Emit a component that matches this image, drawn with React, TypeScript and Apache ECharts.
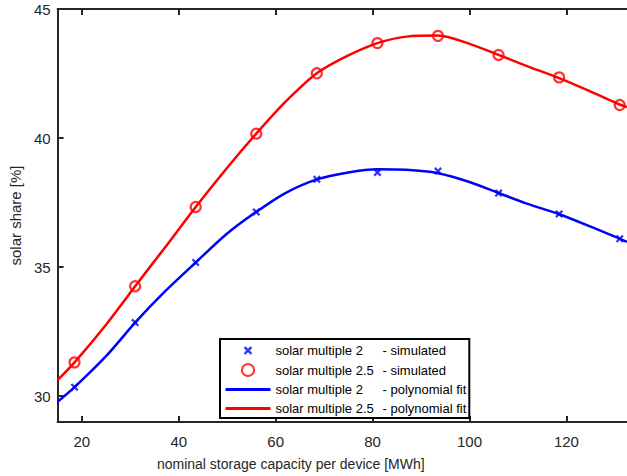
import React, { useEffect, useRef } from "react";
import * as echarts from "echarts";

const simX = [18.5, 31, 43.5, 56, 68.5, 81, 93.5, 106, 118.5, 131];
const sim2 = [30.35, 32.85, 35.18, 37.14, 38.4, 38.67, 38.72, 37.87, 37.06, 36.1];
const sim25 = [31.31, 34.26, 37.33, 40.17, 42.51, 43.68, 43.96, 43.22, 42.35, 41.28];

const fitX = [15, 18.5, 25, 31, 37, 43.5, 50, 56, 62, 68.5, 75, 81, 87, 93.5, 100, 106, 112, 118.5, 125, 131, 132.5];
const fit2 = [29.78, 30.35, 31.55, 32.85, 34.03, 35.18, 36.3, 37.14, 37.87, 38.4, 38.67, 38.79, 38.77, 38.64, 38.3, 37.87, 37.45, 37.05, 36.57, 36.1, 35.98];
const fit25 = [30.62, 31.31, 32.77, 34.26, 35.72, 37.33, 38.85, 40.17, 41.4, 42.51, 43.2, 43.68, 43.93, 43.97, 43.65, 43.22, 42.78, 42.32, 41.8, 41.3, 41.2];

const xTicks = [20, 40, 60, 80, 100, 120];
const yTicks = [30, 35, 40, 45];

const names = [
  "solar multiple 2 - simulated",
  "solar multiple 2.5 - simulated",
  "solar multiple 2 - polynomial fit",
  "solar multiple 2.5 - polynomial fit",
];

const crossPath =
  "path://M0,2 L2,0 L5,3 L8,0 L10,2 L7,5 L10,8 L8,10 L5,7 L2,10 L0,8 L3,5 Z";
const crossLegendPath =
  "path://M-2,-2 L-1.99,-2 L-2,-1.99 Z M12,12 L11.99,12 L12,11.99 Z M0,2 L2,0 L5,3 L8,0 L10,2 L7,5 L10,8 L8,10 L5,7 L2,10 L0,8 L3,5 Z";

const AXIS = "#262626";
const FONT = "Liberation Sans, Arial, sans-serif";

export default function App() {
  const ref = useRef<HTMLDivElement>(null);
  useEffect(() => {
    document.body.style.margin = "0";
    const chart = echarts.init(ref.current!, null, { renderer: "svg" });
    const zip = (xs: number[], ys: number[]) => xs.map((x, i) => [x, ys[i]]);
    const axisCommon = {
      type: "value" as const,
      axisLine: { show: true, lineStyle: { color: AXIS, width: 2 } },
      axisTick: { show: true, inside: true, length: 6, lineStyle: { color: AXIS, width: 2 } },
      splitLine: { show: false },
    };
    chart.setOption({
      animation: false,
      backgroundColor: "#ffffff",
      textStyle: { fontFamily: FONT },
      grid: { left: 55, top: 9, right: 0, bottom: 50, containLabel: false },
      xAxis: [
        {
          ...axisCommon,
          min: 15,
          max: 132.5,
          position: "bottom",
          axisTick: { ...axisCommon.axisTick, customValues: xTicks },
          axisLabel: { customValues: xTicks, color: AXIS, fontSize: 15, margin: 12, fontFamily: FONT },
          name: "nominal storage capacity per device [MWh]",
          nameLocation: "middle",
          nameGap: 35,
          nameTextStyle: { color: AXIS, fontSize: 14, fontFamily: FONT, padding: [0, 103, 0, 0] },
        },
        {
          ...axisCommon,
          min: 15,
          max: 132.5,
          position: "top",
          axisTick: { ...axisCommon.axisTick, customValues: xTicks },
          axisLabel: { show: false },
        },
      ],
      yAxis: {
        ...axisCommon,
        min: 29,
        max: 45,
        axisTick: { ...axisCommon.axisTick, customValues: yTicks },
        axisLabel: { customValues: yTicks, color: AXIS, fontSize: 15, margin: 7, fontFamily: FONT },
        name: "solar share [%]",
        nameLocation: "middle",
        nameGap: 32,
        nameTextStyle: { color: AXIS, fontSize: 15, fontFamily: FONT },
      },
      legend: {
        orient: "vertical",
        left: 220,
        top: 339,
        itemWidth: 45,
        itemHeight: 12,
        itemGap: 6,
        padding: [5, 3, 3, 4],
        borderColor: "#000",
        borderWidth: 2,
        backgroundColor: "#fff",
        data: [
          { name: names[0], icon: crossLegendPath },
          { name: names[1] },
          { name: names[2], itemStyle: { opacity: 0 }, lineStyle: { width: 3 } },
          { name: names[3], itemStyle: { opacity: 0 }, lineStyle: { width: 3 } },
        ],
        formatter: (n: string) => {
          const i = n.indexOf(" - ");
          return `{a|${n.slice(0, i)}}{b|${n.slice(i + 1)}}`;
        },
        textStyle: {
          color: "#000",
          fontSize: 13,
          fontFamily: FONT,
          rich: {
            a: { width: 107, fontSize: 13, color: "#000", fontFamily: FONT },
            b: { fontSize: 13, color: "#000", fontFamily: FONT },
          },
        },
      },
      series: [
        {
          name: names[0],
          type: "scatter",
          data: zip(simX, sim2),
          symbol: crossPath,
          symbolSize: 8,
          itemStyle: { color: "#0000ff" },
          z: 5,
        },
        {
          name: names[1],
          type: "scatter",
          data: zip(simX, sim25),
          symbol: "circle",
          symbolSize: 10,
          itemStyle: { color: "rgba(0,0,0,0)", borderColor: "#ff0000", borderWidth: 2.2 },
          z: 5,
        },
        {
          name: names[2],
          type: "line",
          data: zip(fitX, fit2),
          smooth: 0.3,
          symbol: "none",
          lineStyle: { color: "#0000ff", width: 2.5 },
          itemStyle: { color: "#0000ff" },
        },
        {
          name: names[3],
          type: "line",
          data: zip(fitX, fit25),
          smooth: 0.3,
          symbol: "none",
          lineStyle: { color: "#ff0000", width: 2.5 },
          itemStyle: { color: "#ff0000" },
        },
      ],
    });
    return () => chart.dispose();
  }, []);
  return <div ref={ref} style={{ width: 627, height: 476 }} />;
}
